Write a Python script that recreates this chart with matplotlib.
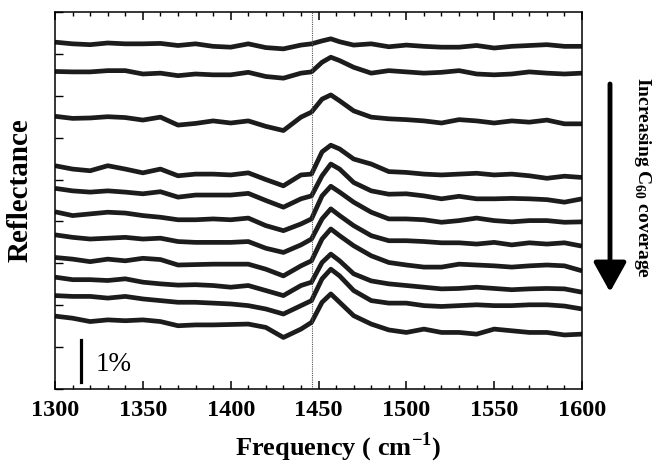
import numpy as np
import matplotlib.pyplot as plt
from matplotlib.ticker import MultipleLocator, NullFormatter

plt.rcParams['font.family'] = ['Liberation Serif', 'DejaVu Serif']
plt.rcParams['mathtext.fontset'] = 'custom'
plt.rcParams['mathtext.rm'] = 'Liberation Serif:bold'
plt.rcParams['mathtext.bf'] = 'Liberation Serif:bold'

# frequency grid (cm-1) shared by all spectra
freq = [1300, 1310, 1320, 1330, 1340, 1350, 1360, 1370, 1380, 1390, 1400,
        1410, 1420, 1430, 1440, 1446, 1452, 1457, 1462, 1470, 1480, 1490,
        1500, 1510, 1520, 1530, 1540, 1550, 1560, 1570, 1580, 1590, 1600]

# reflectance traces (%), already offset, top (low coverage) to bottom
trace_1 = [8.28, 8.24, 8.22, 8.26, 8.24, 8.24, 8.25, 8.20, 8.24, 8.18, 8.16,
           8.24, 8.15, 8.12, 8.21, 8.24, 8.31, 8.36, 8.29, 8.21, 8.24, 8.17,
           8.21, 8.18, 8.16, 8.16, 8.20, 8.14, 8.18, 8.20, 8.22, 8.18, 8.18]
trace_2 = [7.58, 7.57, 7.57, 7.60, 7.60, 7.52, 7.54, 7.48, 7.52, 7.50, 7.50,
           7.56, 7.46, 7.42, 7.54, 7.57, 7.80, 7.92, 7.84, 7.68, 7.54, 7.60,
           7.57, 7.54, 7.56, 7.60, 7.52, 7.50, 7.52, 7.57, 7.54, 7.52, 7.54]
trace_3 = [6.51, 6.46, 6.47, 6.50, 6.48, 6.42, 6.49, 6.30, 6.34, 6.40, 6.35,
           6.40, 6.27, 6.17, 6.49, 6.61, 6.92, 7.02, 6.88, 6.64, 6.49, 6.45,
           6.43, 6.40, 6.35, 6.43, 6.40, 6.35, 6.40, 6.37, 6.42, 6.33, 6.33]
trace_4 = [5.33, 5.25, 5.21, 5.33, 5.25, 5.16, 5.25, 5.09, 5.13, 5.13, 5.11,
           5.16, 5.00, 4.85, 5.11, 5.13, 5.66, 5.82, 5.73, 5.49, 5.37, 5.19,
           5.17, 5.13, 5.11, 5.13, 5.15, 5.11, 5.13, 5.09, 5.03, 5.08, 5.05]
trace_5 = [4.79, 4.73, 4.70, 4.73, 4.70, 4.66, 4.71, 4.58, 4.63, 4.63, 4.63,
           4.67, 4.50, 4.34, 4.54, 4.61, 5.09, 5.37, 5.25, 4.93, 4.73, 4.65,
           4.66, 4.61, 4.54, 4.60, 4.54, 4.54, 4.55, 4.54, 4.52, 4.46, 4.54]
trace_6 = [4.23, 4.14, 4.18, 4.22, 4.20, 4.14, 4.10, 4.04, 4.04, 4.06, 4.04,
           4.08, 3.90, 3.78, 3.94, 4.06, 4.61, 4.84, 4.70, 4.46, 4.22, 4.06,
           4.06, 4.04, 3.98, 4.02, 4.08, 4.02, 3.99, 4.02, 4.02, 3.98, 3.99]
trace_7 = [3.68, 3.62, 3.58, 3.60, 3.62, 3.58, 3.60, 3.52, 3.50, 3.50, 3.50,
           3.52, 3.36, 3.26, 3.44, 3.58, 4.06, 4.30, 4.14, 3.90, 3.66, 3.54,
           3.54, 3.52, 3.49, 3.49, 3.46, 3.50, 3.44, 3.49, 3.46, 3.49, 3.41]
trace_8 = [3.14, 3.10, 3.04, 3.10, 3.06, 3.12, 3.09, 2.96, 2.97, 2.98, 2.98,
           2.98, 2.86, 2.70, 2.94, 3.06, 3.58, 3.82, 3.66, 3.42, 3.18, 3.02,
           2.96, 2.91, 2.91, 2.98, 2.96, 2.94, 2.91, 2.94, 2.96, 2.94, 2.82]
trace_9 = [2.67, 2.61, 2.61, 2.59, 2.63, 2.55, 2.51, 2.48, 2.49, 2.47, 2.43,
           2.47, 2.35, 2.23, 2.47, 2.55, 3.02, 3.22, 3.06, 2.75, 2.58, 2.51,
           2.47, 2.43, 2.39, 2.40, 2.43, 2.40, 2.37, 2.39, 2.40, 2.39, 2.31]
trace_10 = [2.23, 2.21, 2.21, 2.17, 2.21, 2.15, 2.11, 2.07, 2.07, 2.05, 2.03,
            1.99, 1.91, 1.79, 1.99, 2.11, 2.63, 2.86, 2.70, 2.35, 2.11, 2.05,
            2.05, 1.99, 1.97, 1.99, 2.01, 1.99, 1.99, 2.01, 2.01, 1.98, 1.91]
trace_11 = [1.74, 1.69, 1.61, 1.65, 1.63, 1.65, 1.61, 1.51, 1.53, 1.53, 1.54,
            1.55, 1.47, 1.23, 1.43, 1.59, 2.07, 2.27, 2.07, 1.75, 1.55, 1.41,
            1.35, 1.43, 1.35, 1.35, 1.31, 1.43, 1.39, 1.35, 1.35, 1.29, 1.31]

traces = [trace_1, trace_2, trace_3, trace_4, trace_5, trace_6,
          trace_7, trace_8, trace_9, trace_10, trace_11]

line_pos = 1446          # dotted reference line (cm-1)
scale_x = 1315           # position of the 1% scale bar
scale_y = [0.17, 1.17]

fig = plt.figure(figsize=(6.59, 4.64), dpi=100)
ax = fig.add_axes([0.0835, 0.1595, 0.7997, 0.8125])

for tr in traces:
    ax.plot(freq, tr, color='#1c1c1c', lw=3.4, solid_joinstyle='round', solid_capstyle='butt')

ax.axvline(line_pos, color='#555555', lw=0.8, ls=(0, (1, 1)))

# 1% scale bar
ax.plot([scale_x, scale_x], scale_y, color='k', lw=2.3)
ax.text(scale_x + 8, 0.62, '1%', fontsize=19.5, ha='left', va='center')

ax.set_xlim(1300, 1600)
ax.set_ylim(0, 9)
ax.xaxis.set_major_locator(MultipleLocator(50))
ax.xaxis.set_minor_locator(MultipleLocator(10))
ax.yaxis.set_major_locator(MultipleLocator(1))
ax.yaxis.set_major_formatter(NullFormatter())
ax.tick_params(axis='x', which='major', direction='in', length=6, width=1.1,
               top=True, pad=7, labelsize=17.5)
ax.tick_params(axis='x', which='minor', direction='in', length=3, width=1.0, top=True)
ax.tick_params(axis='y', which='major', direction='in', length=6, width=1.0, right=False)
for lab in ax.get_xticklabels():
    lab.set_fontweight('bold')
for sp in ax.spines.values():
    sp.set_linewidth(1.1)

ax.set_xlabel('Frequency ( cm$^{\\mathregular{-1}}$)', fontsize=19, fontweight='bold')
ax.xaxis.set_label_coords(0.537, -0.108)
ax.set_ylabel('Reflectance', fontsize=21, fontweight='bold')
ax.yaxis.set_label_coords(-0.04, 0.53)

# coverage arrow and label on the right
ax.annotate('', xy=(610 / 659, 1 - 293 / 464), xytext=(610 / 659, 1 - 85 / 464),
            xycoords='figure fraction', textcoords='figure fraction',
            arrowprops=dict(arrowstyle='-|>,head_length=0.9,head_width=0.5',
                            lw=3.5, color='k', mutation_scale=20, shrinkA=0, shrinkB=0))
fig.text(643 / 659, 1 - 178 / 464, 'Increasing C$_{\\mathregular{60}}$ coverage',
         rotation=-90, fontsize=14, fontweight='bold', ha='center', va='center')

fig.savefig('out.png', dpi=100)
